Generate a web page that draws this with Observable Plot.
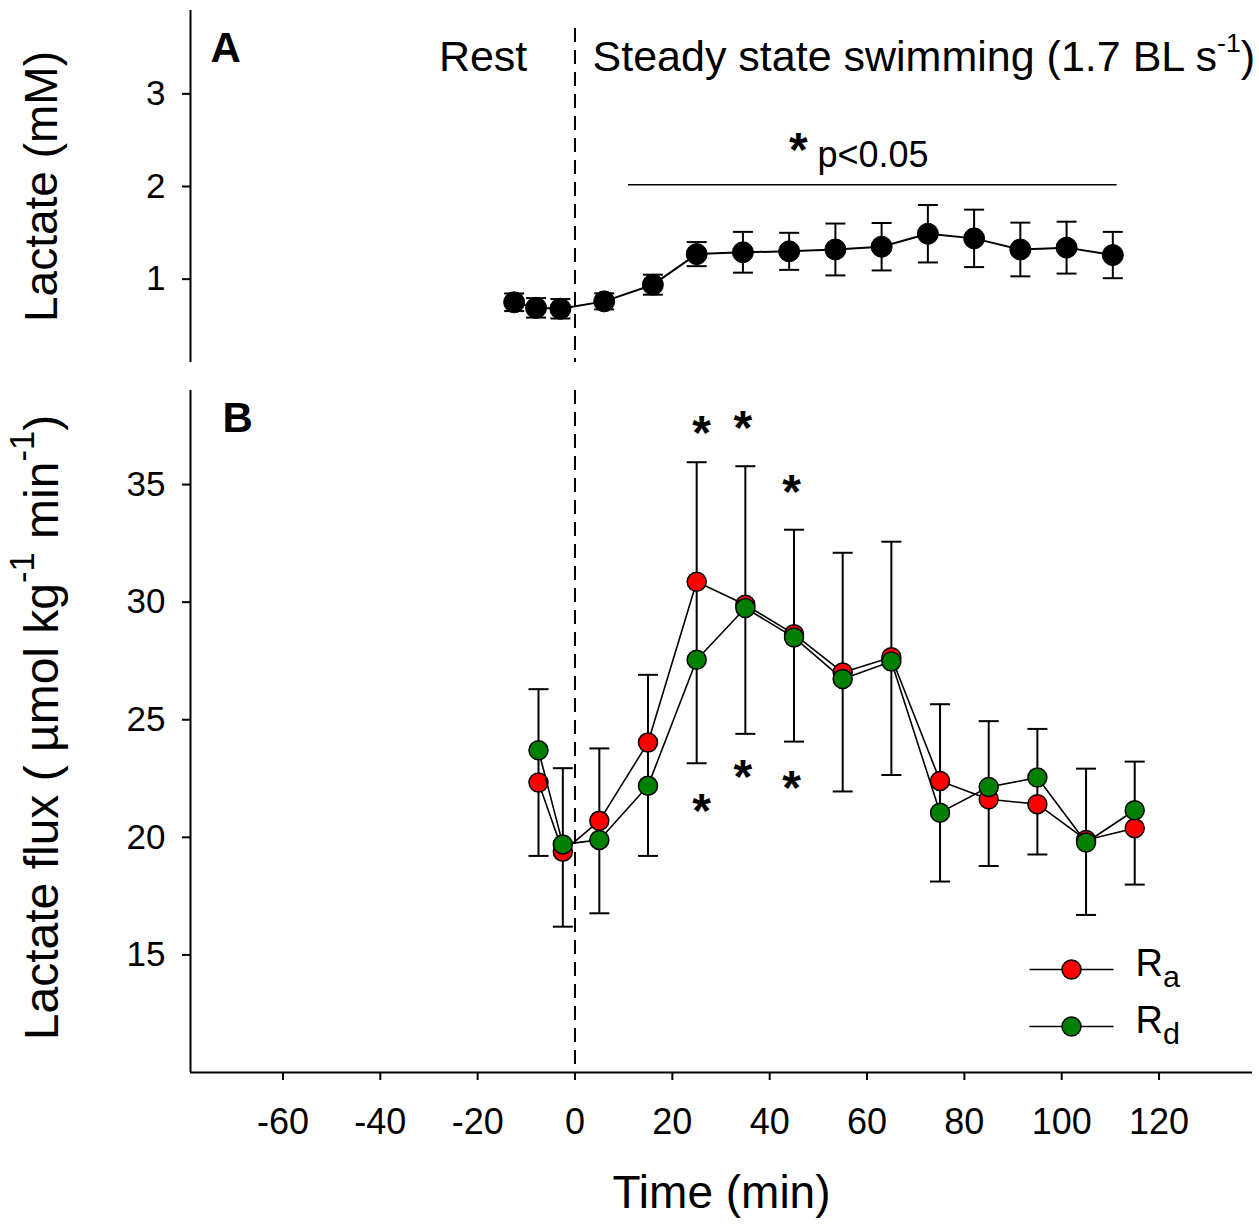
<!DOCTYPE html>
<html><head><meta charset="utf-8">
<script src="https://cdn.jsdelivr.net/npm/d3@7"></script>
<script src="https://cdn.jsdelivr.net/npm/@observablehq/plot@0.6"></script>
<style>
body{margin:0;background:#fff;}
#chart{width:1259px;}
#chart svg{display:block;overflow:visible;}
</style></head><body><div id="chart"></div>
<script>
// ---- Panel A: plasma lactate (mM), mean ± SE
const timeA = [-12.5, -8, -3, 6, 16, 25, 34.5, 44, 53.5, 63, 72.5, 82, 91.5, 101, 110.5];
const lactate = [0.75, 0.69, 0.68, 0.76, 0.94, 1.27, 1.29, 1.30, 1.32, 1.35, 1.49, 1.44, 1.32, 1.34, 1.26];
const lactateSE = [0.095, 0.105, 0.105, 0.087, 0.108, 0.13, 0.22, 0.20, 0.28, 0.256, 0.31, 0.31, 0.29, 0.28, 0.25];

// ---- Panel B: lactate flux Ra / Rd
const timeB = [-7.5, -2.5, 5, 15, 25, 35, 45, 55, 65, 75, 85, 95, 105, 115];
const ra = [22.33, 19.39, 20.70, 24.03, 30.87, 29.89, 28.64, 27.01, 27.66, 22.40, 21.62, 21.41, 19.89, 20.39];
const rd = [23.70, 19.70, 19.89, 22.19, 27.55, 29.75, 28.50, 26.73, 27.48, 21.05, 22.14, 22.54, 19.78, 21.15];
const errHigh = [26.30, 22.94, 23.78, 26.91, 35.95, 35.78, 33.08, 32.10, 32.57, 25.66, 24.94, 24.61, 22.92, 23.22];
const errLow = [19.21, 16.20, 16.77, 19.21, 23.15, 24.40, 24.07, 21.95, 22.65, 18.12, 18.78, 19.27, 16.70, 17.99];

// ---- Scales / ticks
const xDomain = [-79, 139.2];
const yDomainA = [0.1, 3.9];
const yDomainB = [10, 39];
const xTicks = [-60, -40, -20, 0, 20, 40, 60, 80, 100, 120];
const yTicksA = [1, 2, 3];
const yTicksB = [15, 20, 25, 30, 35];

// ---- Annotations
const restLabel = [{x: -9.8, y: 3.40, text: "Rest"}];
const swimLabel = [{x: 3.6, y: 3.40, text: "Steady state swimming (1.7 BL s^{-1})"}];
const sigLineA = [{x1: 11, x2: 111.4, y: 2.02}];
const sigStarA = [{x: 45.9, y: 2.52}];
const sigTextA = [{x: 49.8, y: 2.34, text: "p<0.05"}];
const starsB = [
  {x: 26, y: 37.66}, {x: 34.5, y: 37.87}, {x: 44.5, y: 35.15},
  {x: 26, y: 21.62}, {x: 34.5, y: 23.06}, {x: 44.5, y: 22.6}
];
const seriesNames = ["R_{a}", "R_{d}"];
const seriesColors = ["#ff0000", "#008000"];

const FONT = "'Liberation Sans', Arial, Helvetica, sans-serif";

// horizontal-line symbol used for error-bar caps and legend lines
const hline = {draw(ctx, size) { const w = Math.sqrt(size / Math.PI); ctx.moveTo(-w, 0); ctx.lineTo(w, 0); }};

const dataA = timeA.map((t, i) => ({t, v: lactate[i], lo: lactate[i] - lactateSE[i], hi: lactate[i] + lactateSE[i]}));
const dataRa = timeB.map((t, i) => ({t, v: ra[i]}));
const dataRd = timeB.map((t, i) => ({t, v: rd[i]}));
const dataErr = timeB.map((t, i) => ({t, lo: errLow[i], hi: errHigh[i]}));

function richify(svg) {
  svg.querySelectorAll("text").forEach(t => {
    const s = t.textContent;
    if (!/[\^_]\{/.test(s)) return;
    t.textContent = "";
    const re = /([\^_])\{([^}]*)\}/g;
    let last = 0, m;
    const add = (str) => { const ts = document.createElementNS("http://www.w3.org/2000/svg", "tspan"); ts.textContent = str; t.appendChild(ts); return ts; };
    const sup = t.closest("[data-sup]") ? t.closest("[data-sup]").getAttribute("data-sup") : "62%";
    while ((m = re.exec(s))) {
      if (m.index > last) add(s.slice(last, m.index));
      const ts = add(m[2]);
      if (m[1] === "^") { ts.setAttribute("font-size", sup); ts.setAttribute("baseline-shift", "0.7em"); }
      else { ts.setAttribute("font-size", "80%"); ts.setAttribute("baseline-shift", "-0.36em"); }
      last = re.lastIndex;
    }
    if (last < s.length) add(s.slice(last));
  });
}

const dash = {stroke: "#000", strokeWidth: 2, strokeDasharray: "14,8"};

const plotA = Plot.plot({
  width: 1259, height: 380,
  marginLeft: 190, marginRight: 7, marginTop: 10, marginBottom: 18,
  style: {fontFamily: FONT, fontSize: "35px", color: "#000", background: "#fff"},
  x: {domain: xDomain, axis: null},
  y: {domain: yDomainA},
  marks: [
    Plot.ruleX([0], {...dash, insetTop: 18}),
    Plot.ruleX([xDomain[0]], {stroke: "#000", strokeWidth: 2}),
    Plot.axisY({ticks: yTicksA, tickSize: 8, tickPadding: 17, strokeWidth: 2, fontSize: 35, tickFormat: d => String(d), label: null}),
    Plot.text(["Lactate (mM)"], {text: d => d, frameAnchor: "left", dx: -148, rotate: -90, fontSize: 46, textAnchor: "middle", lineAnchor: "middle"}),
    Plot.text(["A"], {text: d => d, frameAnchor: "top-left", dx: 20, dy: 22, fontSize: 42, fontWeight: "bold", textAnchor: "start", lineAnchor: "top"}),
    Plot.text(restLabel, {x: "x", y: "y", text: "text", textAnchor: "end", fontSize: 43, lineAnchor: "middle"}),
    Plot.text(swimLabel, {x: "x", y: "y", text: "text", textAnchor: "start", fontSize: 43, lineAnchor: "middle"}),
    Plot.ruleY(sigLineA, {y: "y", x1: "x1", x2: "x2", stroke: "#000", strokeWidth: 1.5}),
    Plot.text(sigStarA, {x: "x", y: "y", text: () => "*", fontSize: 48, fontWeight: "bold", lineAnchor: "middle", dy: 12}),
    Plot.text(sigTextA, {x: "x", y: "y", text: "text", fontSize: 36, textAnchor: "start", lineAnchor: "middle"}),
    Plot.ruleX(dataA, {x: "t", y1: "lo", y2: "hi", stroke: "#000", strokeWidth: 2}),
    Plot.dot(dataA, {x: "t", y: "lo", symbol: hline, r: 10, stroke: "#000", strokeWidth: 2, fill: "none"}),
    Plot.dot(dataA, {x: "t", y: "hi", symbol: hline, r: 10, stroke: "#000", strokeWidth: 2, fill: "none"}),
    Plot.line(dataA, {x: "t", y: "v", stroke: "#000", strokeWidth: 2}),
    Plot.dot(dataA, {x: "t", y: "v", r: 10.5, fill: "#000", stroke: "#000", strokeWidth: 1})
  ]
});

const legendMarks = [];
seriesNames.forEach((name, i) => {
  const dy = -103 + i * 57;
  legendMarks.push(Plot.dot([name], {frameAnchor: "bottom-right", dx: -181, dy, symbol: hline, r: 42, stroke: "#000", strokeWidth: 1.5, fill: "none"}));
  legendMarks.push(Plot.dot([name], {frameAnchor: "bottom-right", dx: -181, dy, r: 9.5, fill: seriesColors[i], stroke: "#000", strokeWidth: 1.5}));
  legendMarks.push(Plot.text([name], {text: d => d, frameAnchor: "bottom-right", dx: -117, dy: dy - 6, fontSize: 38, textAnchor: "start", lineAnchor: "middle"}));
});

const plotB = Plot.plot({
  width: 1259, height: 844,
  marginLeft: 190, marginRight: 7, marginTop: 10, marginBottom: 152,
  style: {fontFamily: FONT, fontSize: "35px", color: "#000", background: "#fff"},
  x: {domain: xDomain},
  y: {domain: yDomainB},
  marks: [
    Plot.ruleX([0], dash),
    Plot.ruleX([xDomain[0]], {stroke: "#000", strokeWidth: 2}),
    Plot.ruleY([yDomainB[0]], {stroke: "#000", strokeWidth: 2}),
    Plot.axisY({ticks: yTicksB, tickSize: 8, tickPadding: 17, strokeWidth: 2, fontSize: 35, tickFormat: d => String(d), label: null}),
    Plot.axisX({ticks: xTicks, tickSize: 8, tickPadding: 28, strokeWidth: 2, fontSize: 36, tickFormat: d => String(d), label: null}),
    Plot.text(["Lactate flux (\u00A0µmol kg^{-1} min^{-1})"], {text: d => d, frameAnchor: "left", dx: -148, dy: -4, rotate: -90, fontSize: 48, textAnchor: "middle", lineAnchor: "middle", className: "ytitleB"}),
    Plot.text(["Time (min)"], {text: d => d, frameAnchor: "bottom", dy: 121, fontSize: 46, textAnchor: "middle", lineAnchor: "middle"}),
    Plot.text(["B"], {text: d => d, frameAnchor: "top-left", dx: 32, dy: 12, fontSize: 42, fontWeight: "bold", textAnchor: "start", lineAnchor: "top"}),
    Plot.ruleX(dataErr, {x: "t", y1: "lo", y2: "hi", stroke: "#000", strokeWidth: 2}),
    Plot.dot(dataErr, {x: "t", y: "lo", symbol: hline, r: 10, stroke: "#000", strokeWidth: 2, fill: "none"}),
    Plot.dot(dataErr, {x: "t", y: "hi", symbol: hline, r: 10, stroke: "#000", strokeWidth: 2, fill: "none"}),
    Plot.line(dataRa, {x: "t", y: "v", stroke: "#000", strokeWidth: 1.6}),
    Plot.dot(dataRa, {x: "t", y: "v", r: 9.5, fill: seriesColors[0], stroke: "#000", strokeWidth: 1.5}),
    Plot.line(dataRd, {x: "t", y: "v", stroke: "#000", strokeWidth: 1.6}),
    Plot.dot(dataRd, {x: "t", y: "v", r: 9.5, fill: seriesColors[1], stroke: "#000", strokeWidth: 1.5}),
    Plot.text(starsB, {x: "x", y: "y", text: () => "*", fontSize: 48, fontWeight: "bold", lineAnchor: "middle", dy: 12}),
    ...legendMarks
  ]
});

const root = document.getElementById("chart");
root.appendChild(plotA);
root.appendChild(plotB);
const yTitleB = plotB.querySelector(".ytitleB");
if (yTitleB) yTitleB.setAttribute("data-sup", "72%");
richify(plotA);
richify(plotB);
</script></body></html>
